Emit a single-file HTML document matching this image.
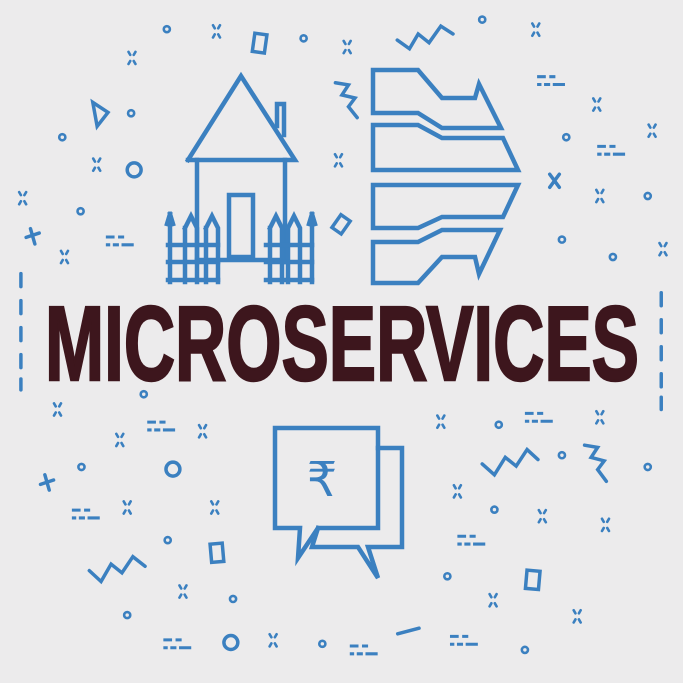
<!DOCTYPE html>
<html><head><meta charset="utf-8"><style>html,body{margin:0;padding:0;background:#ecebec}svg{display:block}</style></head>
<body>
<svg width="683" height="683" viewBox="0 0 683 683" xmlns="http://www.w3.org/2000/svg">
<rect width="683" height="683" fill="#ecebec"/>
<g fill="none" stroke="#3b80c0" stroke-width="4.5" stroke-linejoin="miter" stroke-linecap="square">
<polyline points="188,160 241,76 295,160 188,160" />
<polyline points="277,126 277,104 284,104 284,135"/>
<line x1="197" y1="160" x2="197" y2="262"/>
<line x1="285" y1="160" x2="285" y2="262"/>
<rect x="229" y="195" width="24" height="62"/>
<line x1="197" y1="260" x2="285" y2="260"/>
<g>
<path d="M170,282 V222 M170,214 l-3,10 M170,214 l3,10"/>
<path d="M185,228 L191,216 L197,228 V282 M185,228 V282"/>
<path d="M206,228 L212,216 L218,228 V282 M206,228 V282"/>
<path d="M168,245 H218 M168,262 H218 M168,280 H218"/>
</g>
<g>
<path d="M270,228 L276,216 L282,228 V282 M270,228 V282"/>
<path d="M288,228 L294,216 L300,228 V282 M288,228 V282"/>
<path d="M312,282 V222 M312,214 l-3,10 M312,214 l3,10"/>
<path d="M266,245 H312 M266,262 H312 M266,280 H312"/>
</g>
<polygon points="373,70 418,70 442,98 475,98 479,84 501,128 442,128 418,113 373,113"/>
<polygon points="373,125 418,125 442,138 503,138 518,170 373,170"/>
<polygon points="373,185 518,185 503,217 442,217 418,228 373,228"/>
<polygon points="373,242 418,242 442,230 500,230 479,274 475,257 442,257 418,283 373,283"/>
<polygon points="275,428 378,428 378,528 318,528 298,558 300,528 275,528"/>
<polyline points="378,448 402,448 402,547 368,547 378,578 358,547 312,547 318,528"/>
</g>
<text x="322" y="496" font-family="'DejaVu Sans',sans-serif" font-size="48" fill="#3b80c0" text-anchor="middle">₹</text>
<text x="45" y="380" font-family="'Liberation Sans',sans-serif" font-weight="bold" font-size="106" fill="#3d161d" stroke="#3d161d" stroke-width="2.5" textLength="594" lengthAdjust="spacingAndGlyphs">MICROSERVICES</text>
<g transform="scale(0.4356)" fill="none" stroke="#3b80c0" stroke-width="6" stroke-linecap="round">
<g>
<circle cx="383" cy="67" r="7"/><circle cx="697" cy="88" r="7"/><circle cx="1107" cy="45" r="7"/><circle cx="301" cy="260" r="7"/><circle cx="143" cy="315" r="7"/><circle cx="185" cy="485" r="7"/><circle cx="1300" cy="315" r="7"/><circle cx="1487" cy="450" r="7"/><circle cx="1290" cy="550" r="7"/><circle cx="1407" cy="590" r="7"/><circle cx="330" cy="905" r="7"/><circle cx="1145" cy="975" r="7"/><circle cx="1290" cy="1045" r="7"/><circle cx="1487" cy="1072" r="7"/><circle cx="187" cy="1072" r="7"/><circle cx="385" cy="1240" r="7"/><circle cx="1135" cy="1170" r="7"/><circle cx="1027" cy="1323" r="7"/><circle cx="535" cy="1375" r="7"/><circle cx="292" cy="1412" r="7"/><circle cx="740" cy="1478" r="7"/><circle cx="1205" cy="1492" r="7"/>
<circle cx="308" cy="390" r="16" stroke-width="8"/><circle cx="397" cy="1077" r="16" stroke-width="8"/><circle cx="530" cy="1475" r="16" stroke-width="8"/>
</g>
<g>
<path d="M-8,-14 l4,7 M8,-14 l-4,7 M-8,14 l4,-7 M8,14 l-4,-7" transform="translate(497,72)"/>
<path d="M-8,-14 l4,7 M8,-14 l-4,7 M-8,14 l4,-7 M8,14 l-4,-7" transform="translate(303,133)"/>
<path d="M-8,-14 l4,7 M8,-14 l-4,7 M-8,14 l4,-7 M8,14 l-4,-7" transform="translate(797,108)"/>
<path d="M-8,-14 l4,7 M8,-14 l-4,7 M-8,14 l4,-7 M8,14 l-4,-7" transform="translate(1230,68)"/>
<path d="M-8,-14 l4,7 M8,-14 l-4,7 M-8,14 l4,-7 M8,14 l-4,-7" transform="translate(222,378)"/>
<path d="M-8,-14 l4,7 M8,-14 l-4,7 M-8,14 l4,-7 M8,14 l-4,-7" transform="translate(777,368)"/>
<path d="M-8,-14 l4,7 M8,-14 l-4,7 M-8,14 l4,-7 M8,14 l-4,-7" transform="translate(52,455)"/>
<path d="M-8,-14 l4,7 M8,-14 l-4,7 M-8,14 l4,-7 M8,14 l-4,-7" transform="translate(148,590)"/>
<path d="M-8,-14 l4,7 M8,-14 l-4,7 M-8,14 l4,-7 M8,14 l-4,-7" transform="translate(1370,240)"/>
<path d="M-8,-14 l4,7 M8,-14 l-4,7 M-8,14 l4,-7 M8,14 l-4,-7" transform="translate(1497,300)"/>
<path d="M-8,-14 l4,7 M8,-14 l-4,7 M-8,14 l4,-7 M8,14 l-4,-7" transform="translate(1377,450)"/>
<path d="M-8,-14 l4,7 M8,-14 l-4,7 M-8,14 l4,-7 M8,14 l-4,-7" transform="translate(1522,572)"/>
<path d="M-8,-14 l4,7 M8,-14 l-4,7 M-8,14 l4,-7 M8,14 l-4,-7" transform="translate(132,940)"/>
<path d="M-8,-14 l4,7 M8,-14 l-4,7 M-8,14 l4,-7 M8,14 l-4,-7" transform="translate(275,1010)"/>
<path d="M-8,-14 l4,7 M8,-14 l-4,7 M-8,14 l4,-7 M8,14 l-4,-7" transform="translate(465,990)"/>
<path d="M-8,-14 l4,7 M8,-14 l-4,7 M-8,14 l4,-7 M8,14 l-4,-7" transform="translate(1012,968)"/>
<path d="M-8,-14 l4,7 M8,-14 l-4,7 M-8,14 l4,-7 M8,14 l-4,-7" transform="translate(1377,958)"/>
<path d="M-8,-14 l4,7 M8,-14 l-4,7 M-8,14 l4,-7 M8,14 l-4,-7" transform="translate(1050,1128)"/>
<path d="M-8,-14 l4,7 M8,-14 l-4,7 M-8,14 l4,-7 M8,14 l-4,-7" transform="translate(292,1165)"/>
<path d="M-8,-14 l4,7 M8,-14 l-4,7 M-8,14 l4,-7 M8,14 l-4,-7" transform="translate(493,1165)"/>
<path d="M-8,-14 l4,7 M8,-14 l-4,7 M-8,14 l4,-7 M8,14 l-4,-7" transform="translate(1245,1185)"/>
<path d="M-8,-14 l4,7 M8,-14 l-4,7 M-8,14 l4,-7 M8,14 l-4,-7" transform="translate(1390,1205)"/>
<path d="M-8,-14 l4,7 M8,-14 l-4,7 M-8,14 l4,-7 M8,14 l-4,-7" transform="translate(420,1358)"/>
<path d="M-8,-14 l4,7 M8,-14 l-4,7 M-8,14 l4,-7 M8,14 l-4,-7" transform="translate(1132,1378)"/>
<path d="M-8,-14 l4,7 M8,-14 l-4,7 M-8,14 l4,-7 M8,14 l-4,-7" transform="translate(627,1470)"/>
<path d="M-8,-14 l4,7 M8,-14 l-4,7 M-8,14 l4,-7 M8,14 l-4,-7" transform="translate(1325,1415)"/>
</g>
<g stroke-linecap="butt" stroke-width="7">
<path d="M-32,-9 h20 M-4,-9 h14 M-32,9 h10 M-16,9 h14 M4,9 h28" transform="translate(275,553)"/>
<path d="M-32,-9 h20 M-4,-9 h14 M-32,9 h10 M-16,9 h14 M4,9 h28" transform="translate(1265,185)"/>
<path d="M-32,-9 h20 M-4,-9 h14 M-32,9 h10 M-16,9 h14 M4,9 h28" transform="translate(1403,345)"/>
<path d="M-32,-9 h20 M-4,-9 h14 M-32,9 h10 M-16,9 h14 M4,9 h28" transform="translate(370,978)"/>
<path d="M-32,-9 h20 M-4,-9 h14 M-32,9 h10 M-16,9 h14 M4,9 h28" transform="translate(1237,958)"/>
<path d="M-32,-9 h20 M-4,-9 h14 M-32,9 h10 M-16,9 h14 M4,9 h28" transform="translate(197,1180)"/>
<path d="M-32,-9 h20 M-4,-9 h14 M-32,9 h10 M-16,9 h14 M4,9 h28" transform="translate(1082,1240)"/>
<path d="M-32,-9 h20 M-4,-9 h14 M-32,9 h10 M-16,9 h14 M4,9 h28" transform="translate(407,1478)"/>
<path d="M-32,-9 h20 M-4,-9 h14 M-32,9 h10 M-16,9 h14 M4,9 h28" transform="translate(835,1492)"/>
<path d="M-32,-9 h20 M-4,-9 h14 M-32,9 h10 M-16,9 h14 M4,9 h28" transform="translate(1065,1470)"/>
</g>
<g stroke-width="8">
<path d="M60,545 l30,-10 M70,525 l10,35"/>
<path d="M93,1112 l30,-10 M103,1090 l10,35"/>
<path d="M1262,400 l22,30 M1284,400 l-22,30"/>
<polyline points="912,92 940,112 960,78 985,98 1012,60 1040,78"/>
<polyline points="205,1310 232,1335 255,1295 280,1315 305,1278 333,1300"/>
<polyline points="1107,1065 1135,1090 1160,1050 1185,1070 1210,1032 1235,1055"/>
<polyline points="770,190 800,195 785,218 815,225 800,245 820,270"/>
<polyline points="1342,1022 1372,1027 1357,1050 1387,1058 1372,1078 1392,1105"/>
<rect x="582" y="78" width="28" height="42" transform="rotate(8 596 99)"/>
<rect x="484" y="1248" width="28" height="42" transform="rotate(-5 498 1269)"/>
<rect x="1208" y="1310" width="30" height="42" transform="rotate(5 1222 1331)"/>
<rect x="770" y="497" width="26" height="36" transform="rotate(35 783 515)"/>
<polygon points="213,235 248,258 223,290"/>
<line x1="913" y1="1455" x2="962" y2="1442"/>
<path d="M48,628 v30 M48,690 v30 M48,752 v30 M48,814 v30 M48,870 v25"/>
<path d="M1518,672 v30 M1518,734 v30 M1518,796 v30 M1518,858 v30 M1518,912 v28"/>
</g>
</g>
</svg>
</body></html>
